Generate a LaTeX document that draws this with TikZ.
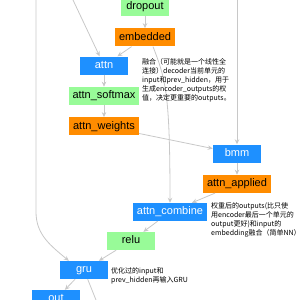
\documentclass[tikz,border=0pt]{standalone}
\usepackage{fontspec}
\setmainfont{Liberation Sans}
\newfontfamily\cjk{Noto Sans CJK SC}
\usepackage{tikz}
\usetikzlibrary{arrows.meta, positioning}
\definecolor{mygreen}{RGB}{152,251,152}
\definecolor{myorange}{RGB}{255,140,0}
\definecolor{myblue}{RGB}{30,144,255}
\definecolor{myedge}{RGB}{200,200,200}
\tikzset{
  line/.style={draw=myedge, line width=0.8pt},
  arrow/.style={draw=myedge, -{Stealth[length=5pt, width=4.5pt]}, line width=0.8pt},
  block/.style={rectangle, minimum height=18pt, minimum width=48pt, inner xsep=4pt, inner ysep=0pt, text height=8pt, text depth=2.5pt, font=\fontsize{11}{13}\selectfont}
}

\begin{document}
\begin{tikzpicture}[x=1pt, y=1pt, gblock/.style={block, fill=mygreen}, oblock/.style={block, fill=myorange}, bblock/.style={block, fill=myblue, text=white}, note/.style={font=\cjk\fontsize{7}{9}\selectfont, align=left, anchor=north west, inner sep=0pt}, node distance=12pt]
  \useasboundingbox (0,0) rectangle (300,-300);
  \clip (0,0) rectangle (300,-300);
  \node [gblock] (drop) at (145,-7) {dropout};
  \node [oblock, below=12pt of drop] (emb) {embedded};
  \node [bblock] (att) at (104,-65.5) {attn};
  \node [gblock, below=12pt of att] (asm) {attn\_softmax};
  \node [oblock, below=12pt of asm] (aw) {attn\_weights};
  \node [bblock] (bmm) at (237,-153.5) {bmm};
  \node [oblock, below=12pt of bmm] (aap) {attn\_applied};
  \node [bblock] (acmb) at (170,-212) {attn\_combine};
  \node [gblock] (relu) at (131,-241) {relu};
  \node [bblock] (gru) at (84,-270) {gru};
  \node [bblock] (out) at (56,-299) {out};

  \coordinate (inA) at (73,0);
  \coordinate (inH) at (36,0);
  \coordinate (bendH) at (36,-212);
  \coordinate (inE) at (237,0);
  \coordinate (outH) at (96,-300);

  \draw [arrow] (drop) -- (emb);
  \draw [arrow] (emb) -- (att);
  \draw [arrow] (inA) -- (att);
  \draw [arrow] ([xshift=8pt]emb.south) .. controls (166,-80) and (170,-95) .. (acmb.north);
  \draw [arrow] (att) -- (asm);
  \draw [arrow] (asm) -- (aw);
  \draw [arrow] (aw) -- (bmm);
  \draw [arrow] (inE) -- (bmm);
  \draw [arrow] (bmm) -- (aap);
  \draw [arrow] (aap) -- (acmb);
  \draw [arrow] (acmb) -- (relu);
  \draw [arrow] (relu) -- (gru);
  \draw [arrow] (inH) -- (bendH) to[out=-90, in=140] ([xshift=9pt]gru.north west);
  \draw [arrow] (gru) -- (out);
  \draw [line] (gru) -- (outH);

  \node [note] (n1) at (142,-58.5) {融合（可能就是一个线性全\\连接）decoder当前单元的\\input和prev\_hidden，用于\\生成encoder\_outputs的权\\值，决定更重要的outputs。};
  \node [note] (n2) at (211,-202) {权重后的outputs(比只使\\用encoder最后一个单元的\\output更好)和input的\\embedding融合（简单NN）};
  \node [note] (n3) at (111,-267) {优化过的input和\\prev\_hidden再输入GRU};
\end{tikzpicture}
\end{document}
